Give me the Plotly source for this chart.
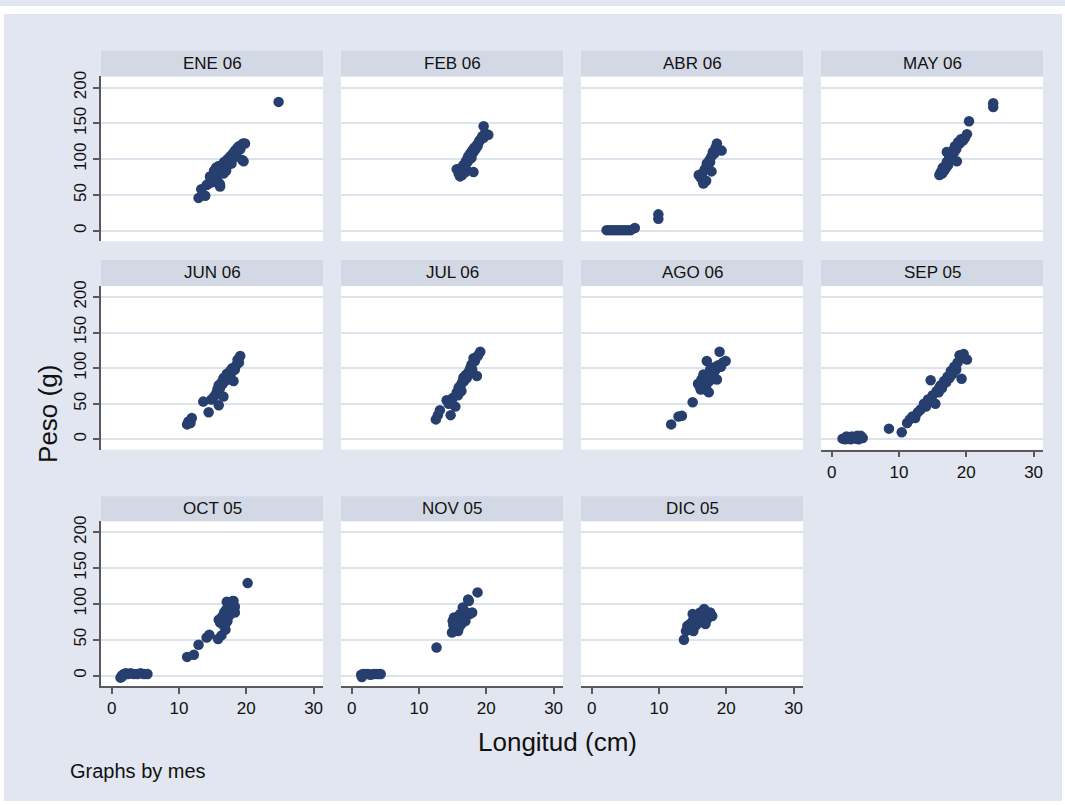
import plotly.graph_objects as go

W, H = 1065, 805

# --- Data: Longitud (cm) vs Peso (g) by month ---
ene06_x = [12.9, 13.3, 13.6, 13.9, 14.1, 14.4, 14.6, 14.9, 15.0, 15.2, 15.3, 15.5, 15.6, 15.8,
           15.9, 16.0, 16.1, 16.3, 16.4, 16.6, 16.7, 16.9, 17.0, 17.2, 17.3, 17.5, 17.6, 17.8,
           18.0, 18.1, 18.3, 18.5, 18.7, 18.9, 19.1, 19.3, 19.5, 19.8, 19.4, 19.6, 16.1, 24.8]
ene06_y = [46, 58, 50, 49, 64, 66, 76, 72, 68, 84, 80, 88, 74, 90,
           82, 66, 62, 86, 92, 80, 96, 88, 84, 100, 92, 97, 104, 94,
           108, 102, 112, 106, 116, 118, 114, 120, 122, 122, 99, 97, 64, 180]

feb06_x = [15.6, 15.9, 16.1, 16.3, 16.5, 16.6, 16.8, 16.9, 17.0, 17.2, 17.3, 17.5, 17.6, 17.8,
           17.9, 18.1, 18.2, 18.4, 18.6, 18.7, 18.9, 19.0, 19.2, 19.4, 19.6, 19.8, 20.0, 20.3,
           19.6, 18.1, 17.0, 16.4]
feb06_y = [86, 80, 76, 88, 84, 92, 90, 82, 98, 96, 104, 100, 108, 102,
           112, 110, 116, 114, 120, 118, 124, 126, 128, 132, 130, 136, 134, 134,
           146, 82, 86, 78]

abr06_x = [2.2, 2.6, 3.0, 3.4, 3.8, 4.2, 4.6, 5.0, 5.4, 5.8, 6.4, 9.9, 9.9,
           15.9, 16.2, 16.4, 16.6, 16.8, 17.0, 17.1, 17.3, 17.5, 17.6, 17.8, 18.0, 18.2,
           18.4, 18.6, 19.3, 16.6, 17.8]
abr06_y = [1, 1, 1, 1, 1, 1, 1, 1, 1, 1, 4, 17, 23,
           78, 74, 80, 67, 86, 70, 94, 88, 99, 96, 104, 110, 108,
           116, 122, 112, 66, 83]

may06_x = [16.0, 16.2, 16.4, 16.5, 16.7, 16.8, 17.0, 17.1, 17.3, 17.4, 17.6, 17.7, 17.9, 18.0,
           18.2, 18.3, 18.5, 18.6, 18.8, 19.0, 19.2, 19.5, 19.8, 20.1, 20.4, 24.0, 24.0,
           17.1, 18.6, 16.5]
may06_y = [78, 82, 80, 86, 84, 90, 88, 96, 92, 100, 98, 106, 104, 112,
           110, 118, 114, 120, 124, 122, 128, 126, 130, 135, 153, 173, 178,
           110, 97, 88]

jun06_x = [11.2, 11.4, 11.7, 11.9, 13.6, 14.4, 14.8, 15.2, 15.5, 15.7, 15.9, 16.1, 16.3, 16.5,
           16.6, 16.8, 17.0, 17.1, 17.3, 17.4, 17.6, 17.8, 17.9, 18.1, 18.3, 18.5, 18.7, 18.9,
           19.1, 15.9, 16.6]
jun06_y = [21, 25, 23, 30, 53, 38, 56, 60, 64, 70, 76, 72, 80, 78,
           86, 82, 88, 92, 84, 90, 96, 94, 100, 82, 98, 104, 112, 108,
           117, 48, 60]

jul06_x = [12.5, 12.8, 13.1, 14.1, 14.4, 14.7, 15.0, 15.4, 15.6, 15.8, 16.0, 16.2, 16.4, 16.6,
           16.7, 16.9, 17.1, 17.3, 17.4, 17.6, 17.8, 17.9, 18.1, 18.3, 18.6, 18.8, 19.1,
           15.9, 16.3, 18.6]
jul06_y = [28, 34, 41, 55, 50, 34, 58, 46, 66, 62, 72, 76, 80, 87,
           82, 90, 86, 94, 92, 100, 105, 98, 114, 110, 116, 118, 123,
           73, 68, 89]

ago06_x = [11.8, 12.9, 13.4, 15.0, 15.8, 16.1, 16.3, 16.5, 16.6, 16.8, 17.0, 17.1, 17.3, 17.5,
           17.6, 17.8, 18.0, 18.1, 18.3, 18.6, 18.8, 19.0, 19.2, 19.5, 19.9, 17.1, 16.2, 17.4]
ago06_y = [21, 32, 33, 52, 78, 73, 84, 80, 91, 86, 76, 69, 92, 82,
           98, 88, 94, 101, 96, 84, 104, 123, 102, 108, 110, 110, 70, 66]

sep05_x = [1.6, 2.0, 2.4, 2.8, 3.2, 3.6, 4.0, 4.4, 4.6, 2.2, 3.0, 3.8, 4.3,
           8.5, 10.4, 11.2, 11.6, 12.0, 12.4, 12.8, 13.2, 13.7, 14.0, 14.3, 14.7, 15.0, 15.4,
           15.6, 15.9, 16.2, 16.4, 16.7, 17.0, 17.2, 17.5, 17.7, 18.0, 18.2, 18.5, 18.7, 19.0,
           19.3, 19.6, 20.1, 14.7, 19.3, 16.0]
sep05_y = [1, 0, 1, 0, 2, 1, 0, 3, 2, 4, 4, 5, 5,
           15, 10, 23, 28, 32, 30, 38, 42, 50, 46, 56, 54, 62, 50,
           68, 66, 76, 72, 82, 80, 88, 86, 96, 92, 102, 98, 108, 118,
           114, 120, 112, 83, 85, 73]

oct05_x = [1.3, 1.5, 1.8, 2.1, 2.4, 2.8, 3.3, 3.8, 4.3, 4.8, 5.3, 1.6,
           11.2, 12.2, 12.9, 14.1, 14.5, 15.8, 15.9, 16.1, 16.3, 16.4, 16.6, 16.7, 16.9, 17.0,
           17.2, 17.3, 17.5, 17.6, 17.8, 18.0, 18.1, 18.3, 18.3, 20.2, 16.9, 17.1]
oct05_y = [-3, 0, 2, 3, 2, 3, 2, 2, 3, 2, 2, -1,
           26, 29, 43, 53, 57, 51, 78, 74, 56, 82, 70, 88, 64, 92,
           76, 96, 84, 100, 90, 104, 104, 96, 88, 129, 72, 103]

nov05_x = [1.4, 1.7, 2.0, 2.4, 2.8, 3.2, 3.6, 4.0, 4.3, 1.5,
           12.6, 14.9, 15.1, 15.2, 15.4, 15.6, 15.8, 15.9, 16.1, 16.3, 16.5, 16.7, 16.9, 17.1,
           17.3, 17.4, 17.6, 17.9, 18.7, 15.0, 16.0]
nov05_y = [1, 2, 2, 2, 1, 2, 2, 2, 2, -2,
           39, 60, 70, 81, 66, 74, 62, 78, 86, 72, 95, 82, 76, 88,
           106, 104, 86, 88, 116, 76, 68]

dic05_x = [13.7, 14.0, 14.2, 14.4, 14.6, 14.8, 15.0, 15.1, 15.3, 15.5, 15.7, 15.9, 16.1, 16.3,
           16.5, 16.7, 16.9, 17.1, 17.3, 17.6, 17.9, 15.0, 16.9]
dic05_y = [50, 62, 69, 66, 72, 64, 86, 62, 78, 70, 82, 74, 88, 80,
           86, 93, 90, 78, 84, 88, 83, 76, 72]

# (label, row, col, x, y)
panels = [
    ("ENE 06", 0, 0, ene06_x, ene06_y),
    ("FEB 06", 0, 1, feb06_x, feb06_y),
    ("ABR 06", 0, 2, abr06_x, abr06_y),
    ("MAY 06", 0, 3, may06_x, may06_y),
    ("JUN 06", 1, 0, jun06_x, jun06_y),
    ("JUL 06", 1, 1, jul06_x, jul06_y),
    ("AGO 06", 1, 2, ago06_x, ago06_y),
    ("SEP 05", 1, 3, sep05_x, sep05_y),
    ("OCT 05", 2, 0, oct05_x, oct05_y),
    ("NOV 05", 2, 1, nov05_x, nov05_y),
    ("DIC 05", 2, 2, dic05_x, dic05_y),
]
with_x_axis = {"SEP 05", "OCT 05", "NOV 05", "DIC 05"}

y_ticks = [0, 50, 100, 150, 200]
x_ticks = [0, 10, 20, 30]

# --- Layout geometry (pixels) ---
cols_px = [(101, 323), (341, 563), (581, 803), (821, 1043)]
rows_px = [(71, 237), (282, 447), (519, 685)]
strip_h = [26, 26, 25]

BG = "#e1e6f0"
STRIP = "#d3d9e4"
GRID = "#dde3ed"
MARK = "#263f6e"
AXIS = "#5a5a5a"
TXT = "#111111"
FONT = "Liberation Sans, Arial, sans-serif"


def fx(p):
    return p / W


def fy(p):
    return 1 - p / H


fig = go.Figure()
layout = {}
shapes = []
annotations = []

for i, (label, r, c, xs, ys) in enumerate(panels, start=1):
    sfx = "" if i == 1 else str(i)
    xref, yref = "x" + sfx, "y" + sfx
    fig.add_trace(go.Scatter(
        x=xs, y=ys, mode="markers", xaxis=xref, yaxis=yref, showlegend=False,
        marker=dict(size=10.5, color=MARK, line=dict(width=0)),
        hoverinfo="x+y",
    ))
    x0, x1 = cols_px[c]
    top, bot = rows_px[r]
    bottom_axis = label in with_x_axis
    left_axis = c == 0
    layout["xaxis" + sfx] = dict(
        domain=[fx(x0), fx(x1)], anchor=yref, range=[-1.6, 31.4],
        showgrid=False, zeroline=False,
        showline=bottom_axis, linecolor=AXIS, linewidth=1.5,
        ticks="outside" if bottom_axis else "", ticklen=6, tickwidth=1.5, tickcolor=AXIS,
        tickvals=x_ticks, showticklabels=bottom_axis,
        tickfont=dict(size=17, color=TXT, family=FONT),
    )
    layout["yaxis" + sfx] = dict(
        domain=[fy(bot), fy(top)], anchor=xref, range=[-14.5, 215.5],
        showgrid=True, gridcolor=GRID, gridwidth=2, zeroline=False,
        showline=left_axis, linecolor=AXIS, linewidth=1.5,
        ticks="outside" if left_axis else "", ticklen=6, tickwidth=1.5, tickcolor=AXIS,
        tickvals=y_ticks, showticklabels=left_axis, tickangle=-90,
        tickfont=dict(size=17, color=TXT, family=FONT),
    )
    # strip header
    shapes.append(dict(type="rect", xref="paper", yref="paper",
                       x0=fx(x0), x1=fx(x1), y0=fy(top), y1=fy(top - strip_h[r]),
                       fillcolor=STRIP, line=dict(width=0), layer="above"))
    annotations.append(dict(text=label, xref="paper", yref="paper",
                            x=fx((x0 + x1) / 2), y=fy(top - strip_h[r] / 2),
                            xanchor="center", yanchor="middle", showarrow=False,
                            font=dict(size=17, color=TXT, family=FONT)))

# thin white frame around the graph region
for (a, b, c_, d) in [(0, 4, 0, H), (1062, W, 0, H), (0, W, 0, 8), (0, W, 801, H)]:
    shapes.append(dict(type="rect", xref="paper", yref="paper",
                       x0=fx(a), x1=fx(b), y0=fy(d), y1=fy(c_),
                       fillcolor="white", line=dict(width=0), layer="above"))

annotations += [
    dict(text="Peso (g)", xref="paper", yref="paper", x=fx(48), y=fy(411),
         textangle=-90, showarrow=False, xanchor="center", yanchor="middle",
         font=dict(size=26, color=TXT, family=FONT)),
    dict(text="Longitud (cm)", xref="paper", yref="paper", x=fx(557), y=fy(742),
         showarrow=False, xanchor="center", yanchor="middle",
         font=dict(size=26, color=TXT, family=FONT)),
    dict(text="Graphs by mes", xref="paper", yref="paper", x=fx(68), y=fy(771),
         showarrow=False, xanchor="left", yanchor="middle",
         font=dict(size=20, color=TXT, family=FONT)),
]

fig.update_layout(
    width=W, height=H, margin=dict(l=0, r=0, t=0, b=0),
    paper_bgcolor=BG, plot_bgcolor="white",
    shapes=shapes, annotations=annotations,
    font=dict(family=FONT, color=TXT),
    **layout,
)

fig.write_html("out.html")
